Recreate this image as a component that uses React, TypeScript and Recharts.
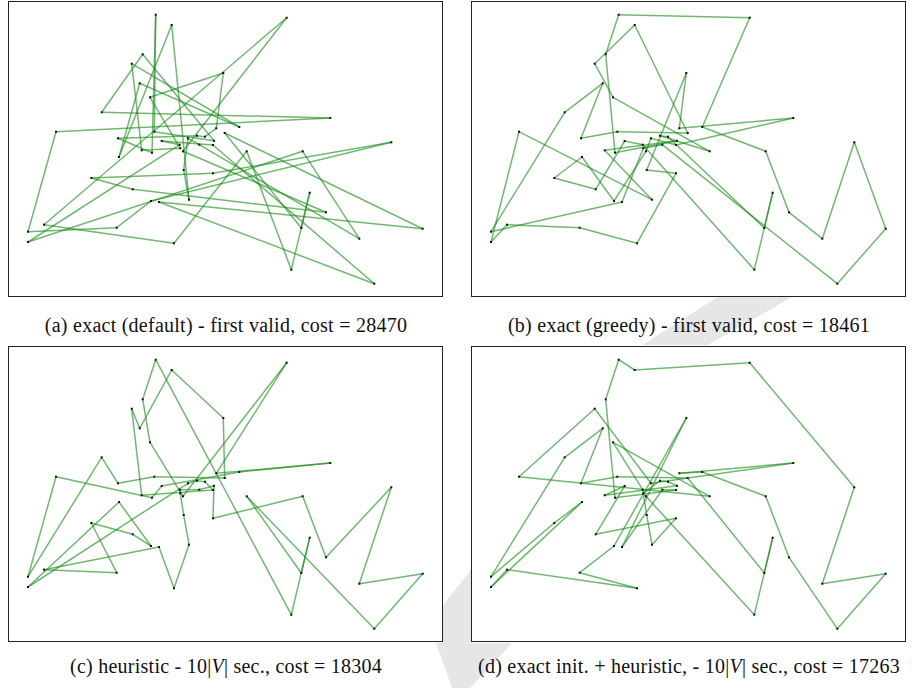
import React from "react";
import { ScatterChart, Scatter, XAxis, YAxis } from "recharts";

// city coordinates (same instance in all four panels)
const cityX = [
  147.7, 163.7, 278.7, 134.7, 123.7, 215.3, 131.7, 142, 93.7, 322.3,
  231.3, 208.3, 48, 146.3, 216.7, 110, 189, 197, 180, 153.7,
  206, 171.7, 172.3, 175, 191.3, 205, 133.7, 144, 238.7, 294.7,
  383.3, 111, 175.7, 205, 83.3, 124.7, 143, 151, 181, 301.7,
  318, 36, 108.7, 293.3, 414.7, 20, 351.3, 20, 166, 283.3, 366.3,
];
const cityY = [
  13.7, 24, 16.7, 53.3, 62.7, 72, 82.3, 96.3, 111.3, 117,
  126, 127.3, 130.7, 130.7, 132, 137.3, 134.7, 135.7, 137.3, 140,
  139.8, 143.7, 147.3, 150.3, 143.7, 144, 149.3, 151.7, 150.3, 150.3,
  141.3, 156, 169, 172.3, 177, 188.3, 200, 201, 198.7, 191.7,
  211.3, 223.7, 226.7, 227, 227.7, 230.7, 237.7, 241, 242.3, 268.7, 282.7,
];

// tours, as 1-based city ids
const tourA = [
  51, 38, 45, 15, 44, 40, 50, 29, 49, 42, 3, 24, 41, 36, 35, 34, 31, 37, 43, 46,
  13, 10, 9, 4, 21, 14, 1, 28, 16, 17, 18, 12, 6, 8, 23, 27, 5, 11, 7, 32,
  2, 39, 33, 19, 25, 47, 30, 48, 22, 20, 26,
];
const tourB = [
  23, 38, 46, 9, 7, 16, 14, 15, 2, 5, 8, 29, 17, 18, 44, 40, 50, 22, 20, 36,
  35, 32, 37, 24, 19, 26, 10, 12, 6, 33, 34, 49, 43, 42, 48, 13, 39, 27, 21, 28,
  4, 1, 3, 11, 30, 41, 47, 31, 45, 51, 25,
];
const tourC = [
  1, 4, 8, 24, 3, 12, 10, 11, 20, 28, 13, 46, 9, 16, 14, 15, 6, 2, 7, 5,
  27, 26, 18, 17, 19, 48, 32, 37, 36, 35, 43, 42, 38, 49, 39, 33, 23, 22, 25, 21,
  34, 30, 41, 31, 47, 45, 51, 29, 44, 40, 50,
];
const tourD = [
  28, 4, 1, 2, 3, 31, 47, 45, 51, 41, 30, 11, 12, 10, 19, 5, 13, 29, 8, 22,
  33, 39, 34, 36, 20, 27, 21, 18, 17, 23, 24, 50, 40, 44, 15, 14, 16, 7, 9, 46,
  35, 32, 48, 42, 49, 43, 37, 6, 38, 25, 26,
];

const cities = cityX.map((x, i) => ({ x, y: cityY[i] }));

const tourEdges = (tour: number[]) =>
  tour.map((id, i) => [cities[id - 1], cities[tour[(i + 1) % tour.length] - 1]]);

function CityDot(props: any) {
  const { cx, cy } = props;
  return <rect x={cx - 1} y={cy - 1} width={2} height={2} fill="#111" />;
}
const NoDot = () => <g />;

function TourPanel({ tour, left, top }: { tour: number[]; left: number; top: number }) {
  const edges = tourEdges(tour);
  return (
    <div
      style={{
        position: "absolute",
        left,
        top,
        width: 435,
        height: 296,
        border: "1px solid #222",
        boxSizing: "border-box",
        background: "#fff",
      }}
    >
      <ScatterChart width={433} height={294} margin={{ top: 0, right: 0, bottom: 0, left: 0 }}>
        <XAxis type="number" dataKey="x" domain={[1, 434]} allowDataOverflow hide />
        <YAxis type="number" dataKey="y" domain={[1, 295]} allowDataOverflow reversed hide />
        {edges.map((e, i) => (
          <Scatter
            key={i}
            data={e}
            line={{ stroke: "#1a8a1a", strokeWidth: 1.5, strokeOpacity: 0.62 }}
            lineType="joint"
            shape={NoDot}
            isAnimationActive={false}
          />
        ))}
        <Scatter data={cities} shape={CityDot} isAnimationActive={false} />
      </ScatterChart>
    </div>
  );
}

const captionStyle: React.CSSProperties = {
  position: "absolute",
  width: 480,
  textAlign: "center",
  fontFamily: "'Liberation Serif', serif",
  fontSize: 20,
  letterSpacing: 0.25,
  color: "#111",
  whiteSpace: "nowrap",
};

export default function App() {
  return (
    <div style={{ position: "absolute", left: 0, top: 0, width: 912, height: 688, background: "#fff", overflow: "hidden" }}>
      {/* faint watermark behind the panels */}
      <svg width={912} height={688} style={{ position: "absolute", left: 0, top: 0 }}>
        <polygon points="718,297 792,297 708,345 642,345" fill="#e6e6e6" />
        <polygon points="443,605 471,570 471,643 443,643" fill="#e6e6e6" />
        <polygon points="436,643 512,643 470,688 452,688" fill="#e6e6e6" />
      </svg>
      <TourPanel tour={tourA} left={8} top={1} />
      <TourPanel tour={tourB} left={471} top={1} />
      <TourPanel tour={tourC} left={8} top={346} />
      <TourPanel tour={tourD} left={471} top={346} />
      <div style={{ ...captionStyle, left: -14, top: 314 }}>
        (a) exact (default) - first valid, cost = 28470
      </div>
      <div style={{ ...captionStyle, left: 449, top: 314 }}>
        (b) exact (greedy) - first valid, cost = 18461
      </div>
      <div style={{ ...captionStyle, left: -14, top: 655 }}>
        (c) heuristic - 10|<i>V</i>| sec., cost = 18304
      </div>
      <div style={{ ...captionStyle, left: 449, top: 655 }}>
        (d) exact init. + heuristic, - 10|<i>V</i>| sec., cost = 17263
      </div>
    </div>
  );
}
